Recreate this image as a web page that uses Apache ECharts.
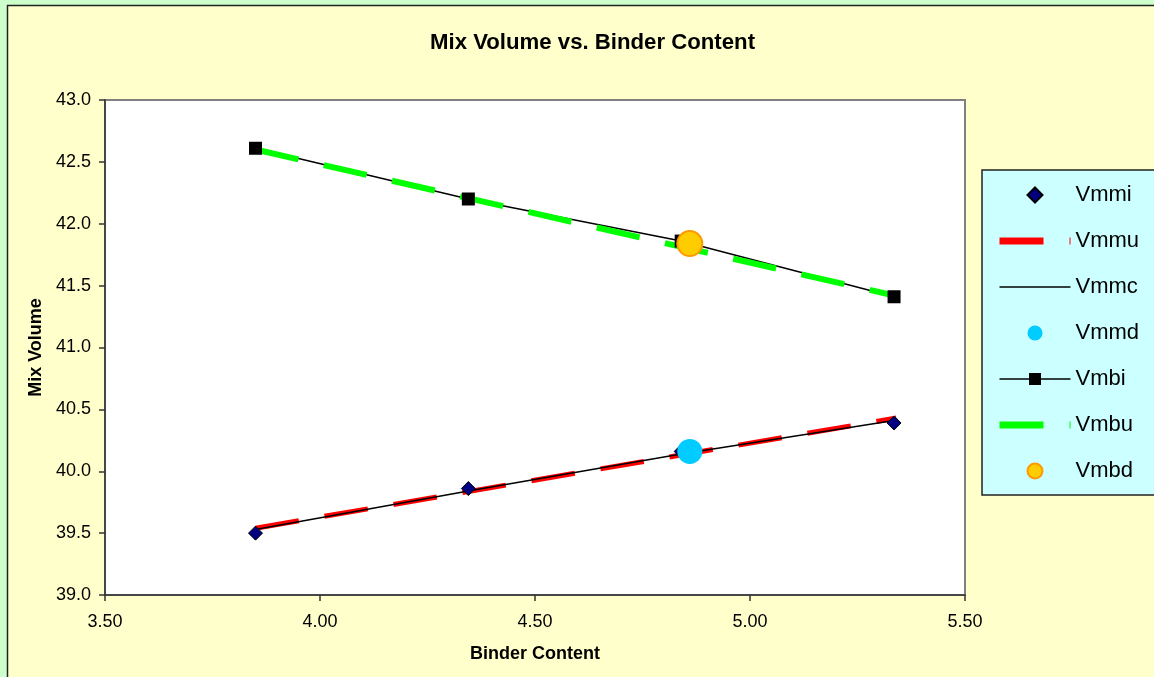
<!DOCTYPE html>
<html>
<head>
<meta charset="utf-8">
<script src="https://cdn.jsdelivr.net/npm/echarts@6/dist/echarts.min.js"></script>
<style>
  html, body { margin: 0; padding: 0; background: #ccffcc; }
  #chart { width: 1154px; height: 677px; }
</style>
</head>
<body>
<div id="chart"></div>
<script>
// Binder content (%) at which each mix was measured
const binderContent = [3.85, 4.345, 4.84, 5.335];

// Mix volume series
const vmmi = [39.50, 39.86, 40.16, 40.39];          // measured points (lower set)
const vmmuX = [3.85, 5.34];
const vmmu = [39.54, 40.43];                       // trend line (lower set)
const vmmc = [39.53, 39.84, 40.14, 40.41];          // computed line (lower set)
const vmmd = [[4.86, 40.16]];                      // design point (lower set)
const vmbi = [42.61, 42.20, 41.86, 41.41];          // measured points (upper set)
const vmbuX = [3.85, 5.335];
const vmbu = [42.60, 41.42];                       // trend line (upper set)
const vmbd = [[4.86, 41.84]];                      // design point (upper set)

const seriesNames = ['Vmmi', 'Vmmu', 'Vmmc', 'Vmmd', 'Vmbi', 'Vmbu', 'Vmbd'];

// Axis ticks
const xTicks = { min: 3.5, max: 5.5, step: 0.5 };
const yTicks = { min: 39.0, max: 43.0, step: 0.5 };

const pair = (xs, ys) => xs.map((x, i) => [x, ys[i]]);

const FONT = '"Liberation Sans", Arial, sans-serif';
const AXIS_COLOR = '#333';
const DIAMOND = 'path://M0,-1L1,0L0,1L-1,0Z';
const HIDDEN_MARK = { opacity: 0 };

const chart = echarts.init(document.getElementById('chart'));
chart.setOption({
  backgroundColor: '#ccffcc',
  animation: false,
  textStyle: { fontFamily: FONT },
  graphic: [{
    type: 'rect',
    z: -10,
    silent: true,
    shape: { x: 7.5, y: 5.5, width: 1170, height: 700 },
    style: { fill: '#ffffcc', stroke: '#222', lineWidth: 1.5 }
  }],
  title: {
    text: 'Mix Volume vs. Binder Content',
    left: 425,
    top: 27,
    textStyle: { fontFamily: FONT, fontSize: 22.2, fontWeight: 'bold', color: '#000' }
  },
  grid: {
    left: 105, top: 100, right: 189, bottom: 82,
    show: true,
    backgroundColor: '#ffffff',
    borderColor: '#808080',
    borderWidth: 2
  },
  legend: {
    orient: 'vertical',
    left: 982,
    top: 170,
    padding: [14, 40, 13, 14],
    itemWidth: 71,
    itemHeight: 15,
    itemGap: 24,
    symbolKeepAspect: true,
    backgroundColor: '#ccffff',
    borderColor: '#222',
    borderWidth: 1.5,
    textStyle: { fontFamily: FONT, fontSize: 22, color: '#000' },
    data: [
      { name: 'Vmmi', icon: DIAMOND },
      { name: 'Vmmu', itemStyle: HIDDEN_MARK, lineStyle: { width: 7, type: [44, 26], color: '#ff0000' } },
      { name: 'Vmmc', itemStyle: HIDDEN_MARK, lineStyle: { width: 1.5, color: '#000' } },
      { name: 'Vmmd', icon: 'circle' },
      { name: 'Vmbi', lineStyle: { width: 1.5, color: '#000' } },
      { name: 'Vmbu', itemStyle: HIDDEN_MARK, lineStyle: { width: 7, type: [44, 26], color: '#00ff00' } },
      { name: 'Vmbd', icon: 'circle' }
    ]
  },
  xAxis: {
    type: 'value',
    min: xTicks.min, max: xTicks.max, interval: xTicks.step,
    name: 'Binder Content',
    nameLocation: 'middle',
    nameGap: 50,
    nameTextStyle: { fontFamily: FONT, fontSize: 18, fontWeight: 'bold', color: '#000' },
    axisLine: { lineStyle: { color: AXIS_COLOR, width: 1.5 } },
    axisTick: { length: 6, lineStyle: { color: AXIS_COLOR, width: 1.5 } },
    axisLabel: { margin: 18, fontSize: 18, color: '#000', formatter: v => v.toFixed(2) },
    splitLine: { show: false }
  },
  yAxis: {
    type: 'value',
    min: yTicks.min, max: yTicks.max, interval: yTicks.step,
    name: 'Mix Volume',
    nameLocation: 'middle',
    nameGap: 57,
    nameTextStyle: { fontFamily: FONT, fontSize: 18, fontWeight: 'bold', color: '#000' },
    axisLine: { show: true, lineStyle: { color: AXIS_COLOR, width: 1.5 } },
    axisTick: { show: true, length: 6, lineStyle: { color: AXIS_COLOR, width: 1.5 } },
    axisLabel: { margin: 14, fontSize: 18, color: '#000', formatter: v => v.toFixed(1) },
    splitLine: { show: false }
  },
  series: [
    {
      name: seriesNames[0], type: 'scatter',
      data: pair(binderContent, vmmi),
      symbol: 'diamond', symbolSize: 14,
      itemStyle: { color: '#000080', borderColor: '#000', borderWidth: 1, opacity: 1 },
      z: 3
    },
    {
      name: seriesNames[1], type: 'line',
      data: pair(vmmuX, vmmu),
      showSymbol: false, symbol: 'none',
      itemStyle: { color: '#ff0000' },
      lineStyle: { color: '#ff0000', width: 5, type: [44, 26], cap: 'butt' },
      z: 2
    },
    {
      name: seriesNames[2], type: 'line',
      data: pair(binderContent, vmmc),
      showSymbol: false, symbol: 'none',
      itemStyle: { color: '#000' },
      lineStyle: { color: '#000', width: 1.5 },
      z: 2
    },
    {
      name: seriesNames[3], type: 'scatter',
      data: vmmd,
      symbol: 'circle', symbolSize: 25,
      itemStyle: { color: '#00ccff', opacity: 1 },
      z: 4
    },
    {
      name: seriesNames[4], type: 'line',
      data: pair(binderContent, vmbi),
      symbol: 'rect', symbolSize: 13, showSymbol: true,
      itemStyle: { color: '#000' },
      lineStyle: { color: '#000', width: 1.5 },
      z: 2
    },
    {
      name: seriesNames[5], type: 'line',
      data: pair(vmbuX, vmbu),
      showSymbol: false, symbol: 'none',
      itemStyle: { color: '#00ff00' },
      lineStyle: { color: '#00ff00', width: 6, type: [44, 26], cap: 'butt' },
      z: 2
    },
    {
      name: seriesNames[6], type: 'scatter',
      data: vmbd,
      symbol: 'circle', symbolSize: 25,
      itemStyle: { color: '#ffcc00', borderColor: '#ff9900', borderWidth: 2, opacity: 1 },
      z: 4
    }
  ]
});
</script>
</body>
</html>
